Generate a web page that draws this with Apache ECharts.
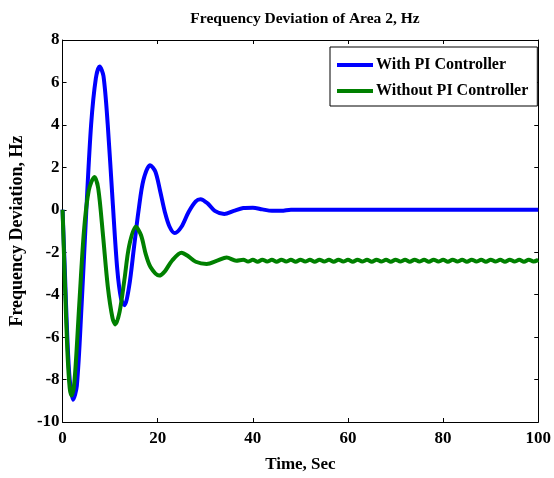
<!DOCTYPE html>
<html>
<head>
<meta charset="utf-8">
<script src="https://cdn.jsdelivr.net/npm/echarts@6/dist/echarts.min.js"></script>
<style>
  html, body { margin: 0; padding: 0; background: #fff; }
  #chart { width: 554px; height: 478px; }
</style>
</head>
<body>
<div id="chart"></div>
<script>
// time (sec) and frequency deviation (Hz)
const tWith = [0, 0.5, 1.0, 1.5, 2.2, 3.0, 4.0, 5.0, 6.0, 7.0, 7.8, 8.6, 9.5, 10.5, 11.5, 12.3, 13.0, 14.0, 15.0, 16.0,
               17.0, 18.4, 19.5, 20.5, 21.5, 22.5, 23.6, 25.0, 26.5, 28.0, 29.0, 30.5, 32.0, 34.0, 36.0, 38.0, 40.0,
               42.0, 44.0, 46.0, 48.0, 60.0, 80.0, 100.0];
const yWith = [0, -3.0, -6.0, -8.0, -8.95, -8.3, -4.5, 0.0, 4.0, 6.2, 6.75, 6.3, 4.0, 0.5, -2.8, -4.2, -4.5, -3.6, -1.8, 0.0,
               1.4, 2.1, 1.8, 0.9, -0.1, -0.8, -1.1, -0.8, -0.1, 0.4, 0.5, 0.3, -0.05, -0.2, -0.05, 0.08, 0.1,
               0.02, -0.05, -0.05, 0, 0, 0, 0];

const tWithout = [0, 0.5, 1.0, 1.5, 1.9, 2.5, 3.5, 4.5, 5.5, 6.7, 7.5, 8.5, 9.5, 10.5, 11.1, 12.0, 13.0, 14.0, 15.4,
                  16.5, 17.5, 18.5, 20.3, 21.5, 23.0, 25.0, 26.5, 28.0, 30.3, 32.5, 34.5, 36.5,
                  38, 39, 40, 41, 42, 43, 44, 45, 46, 47, 48, 49, 50, 51, 52, 53, 54, 55, 56, 57, 58, 59, 60,
                  61, 62, 63, 64, 65, 66, 67, 68, 69, 70, 71, 72, 73, 74, 75, 76, 77, 78, 79, 80,
                  81, 82, 83, 84, 85, 86, 87, 88, 89, 90, 91, 92, 93, 94, 95, 96, 97, 98, 99, 100];
const yWithout = [0, -3.5, -6.6, -8.4, -8.75, -8.1, -4.5, -1.0, 0.9, 1.55, 1.0, -1.2, -3.6, -5.1, -5.4, -4.8, -3.3, -1.7, -0.8,
                  -1.2, -2.1, -2.7, -3.1, -2.9, -2.4, -2.02, -2.2, -2.45, -2.55, -2.4, -2.25, -2.4,
                  -2.35, -2.44, -2.36, -2.45, -2.35, -2.44, -2.36, -2.45, -2.35, -2.44, -2.36, -2.45, -2.35, -2.44, -2.36, -2.45, -2.35, -2.44, -2.36, -2.45, -2.35, -2.44, -2.36,
                  -2.45, -2.35, -2.44, -2.36, -2.45, -2.35, -2.44, -2.36, -2.45, -2.35, -2.44, -2.36, -2.45, -2.35, -2.44, -2.36, -2.45, -2.35, -2.44, -2.36,
                  -2.45, -2.35, -2.44, -2.36, -2.45, -2.35, -2.44, -2.36, -2.45, -2.35, -2.44, -2.36, -2.45, -2.35, -2.44, -2.36, -2.45, -2.35, -2.44, -2.36];

const pairs = (xs, ys) => xs.map((x, i) => [x, ys[i]]);

const serif = 'Liberation Serif';
const labelStyle = { fontFamily: serif, fontWeight: 'bold', fontSize: 17, color: '#000' };
const line = { onZero: false, lineStyle: { color: '#000', width: 1 } };
const tick = { inside: true, length: 4, lineStyle: { color: '#000' } };

var chart = echarts.init(document.getElementById('chart'));
var option = {
    animation: false,
    backgroundColor: '#fff',
    title: {
        text: 'Frequency Deviation of Area 2, Hz',
        left: 300, top: 6, textAlign: 'center',
        textStyle: { fontFamily: serif, fontWeight: 'bold', fontSize: 15.5, color: '#000' }
    },
    legend: {
        left: 330, top: 47,
        orient: 'vertical',
        icon: 'rect',
        itemWidth: 36, itemHeight: 4, itemGap: 10,
        padding: [10, 9, 7, 7],
        borderColor: '#000', borderWidth: 1,
        backgroundColor: '#fff',
        textStyle: { fontFamily: serif, fontWeight: 'bold', fontSize: 16, color: '#000', padding: [0, 0, 0, -2] }
    },
    grid: { left: 59, right: 12, top: 40, bottom: 54 },
    xAxis: [{
        type: 'value', min: 0, max: 100, interval: 20,
        name: 'Time, Sec', nameLocation: 'middle', nameGap: 34,
        nameTextStyle: { fontFamily: serif, fontWeight: 'bold', fontSize: 17, color: '#000' },
        axisLine: line, axisTick: tick, splitLine: { show: false },
        axisLabel: Object.assign({ margin: 8 }, labelStyle)
    }, {
        type: 'value', min: 0, max: 100, interval: 20, position: 'top',
        axisLine: line, axisTick: tick, splitLine: { show: false },
        axisLabel: { show: false }
    }],
    yAxis: [{
        type: 'value', min: -10, max: 8, interval: 2,
        name: 'Frequency Deviation, Hz', nameLocation: 'middle', nameGap: 29,
        nameTextStyle: { fontFamily: serif, fontWeight: 'bold', fontSize: 18, color: '#000' },
        axisLine: line, axisTick: tick, splitLine: { show: false },
        axisLabel: Object.assign({ margin: 3 }, labelStyle)
    }, {
        type: 'value', min: -10, max: 8, interval: 2, position: 'right',
        axisLine: line, axisTick: tick, splitLine: { show: false },
        axisLabel: { show: false }
    }],
    series: [{
        name: 'With PI Controller',
        type: 'line', showSymbol: false, smooth: 0.3,
        color: '#0000ff',
        lineStyle: { width: 4, color: '#0000ff' },
        data: pairs(tWith, yWith)
    }, {
        name: 'Without PI Controller',
        type: 'line', showSymbol: false, smooth: 0.3,
        color: '#008000',
        lineStyle: { width: 4, color: '#008000' },
        data: pairs(tWithout, yWithout)
    }]
};
chart.setOption(option);
</script>
</body>
</html>
